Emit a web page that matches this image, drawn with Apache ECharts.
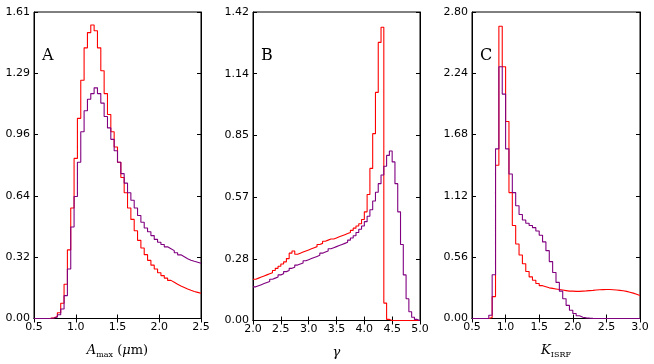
<!DOCTYPE html>
<html>
<head>
<meta charset="utf-8">
<script src="https://cdn.jsdelivr.net/npm/echarts@6/dist/echarts.min.js"></script>
<style>
  html, body { margin: 0; padding: 0; background: #fff; }
  #MyChart { width: 654px; height: 364px; }
</style>
</head>
<body>
<div id="MyChart"></div>
<script>
// panel A : A_max
var edgesA = [0.50, 0.54, 0.58, 0.62, 0.66, 0.70, 0.74, 0.78, 0.82, 0.86, 0.90, 0.94, 0.98, 1.02, 1.06, 1.10, 1.14, 1.18, 1.22, 1.26,
    1.30, 1.34, 1.38, 1.42, 1.46, 1.50, 1.54, 1.58, 1.62, 1.66, 1.70, 1.74, 1.78, 1.82, 1.86, 1.90, 1.94, 1.98, 2.02, 2.06,
    2.10, 2.14, 2.18, 2.22, 2.26, 2.30, 2.34, 2.38, 2.42, 2.46, 2.50];
var redA = [0, 0, 0, 0, 0.001, 0.004, 0.01, 0.03, 0.08, 0.18, 0.36, 0.58, 0.84, 1.05, 1.25, 1.42, 1.50, 1.54, 1.51, 1.42,
    1.30, 1.18, 1.07, 0.98, 0.90, 0.82, 0.74, 0.66, 0.58, 0.52, 0.46, 0.41, 0.37, 0.335, 0.305, 0.28, 0.26, 0.24, 0.225, 0.212,
    0.20, 0.19, 0.18, 0.171, 0.163, 0.155, 0.148, 0.142, 0.137, 0.132];
var purpleA = [0, 0, 0, 0, 0.001, 0.003, 0.008, 0.02, 0.05, 0.12, 0.26, 0.48, 0.64, 0.82, 0.98, 1.09, 1.15, 1.18, 1.21, 1.18,
    1.13, 1.06, 1.00, 0.94, 0.88, 0.82, 0.76, 0.71, 0.66, 0.62, 0.58, 0.54, 0.505, 0.475, 0.455, 0.435, 0.415, 0.40, 0.388, 0.376,
    0.366, 0.356, 0.345, 0.334, 0.324, 0.314, 0.306, 0.30, 0.295, 0.29];
var yLabelsA = ['0.00', '0.32', '0.64', '0.96', '1.29', '1.61'];

// panel B : gamma
var edgesB = [2.00, 2.05, 2.10, 2.15, 2.20, 2.25, 2.30, 2.35, 2.40, 2.45, 2.50, 2.55, 2.60, 2.65, 2.70, 2.75, 2.80, 2.85, 2.90, 2.95,
    3.00, 3.05, 3.10, 3.15, 3.20, 3.25, 3.30, 3.35, 3.40, 3.45, 3.50, 3.55, 3.60, 3.65, 3.70, 3.75, 3.80, 3.85, 3.90, 3.95,
    4.00, 4.05, 4.10, 4.15, 4.20, 4.25, 4.30, 4.35, 4.40, 4.45, 4.50, 4.55, 4.60, 4.65, 4.70, 4.75, 4.80, 4.85, 4.90, 4.95, 5.00];
var redB = [0.19, 0.195, 0.20, 0.205, 0.21, 0.215, 0.22, 0.23, 0.24, 0.25, 0.26, 0.27, 0.285, 0.31, 0.32, 0.305, 0.31, 0.315, 0.32, 0.325,
    0.33, 0.335, 0.34, 0.35, 0.355, 0.365, 0.37, 0.375, 0.375, 0.38, 0.385, 0.39, 0.395, 0.40, 0.405, 0.415, 0.425, 0.435, 0.445, 0.465,
    0.50, 0.58, 0.70, 0.86, 1.05, 1.28, 1.35, 0.08, 0.005, 0, 0, 0, 0, 0, 0, 0, 0, 0, 0, 0];
var purpleB = [0.155, 0.16, 0.165, 0.17, 0.175, 0.18, 0.19, 0.195, 0.20, 0.21, 0.215, 0.225, 0.23, 0.24, 0.245, 0.255, 0.26, 0.265, 0.275, 0.28,
    0.285, 0.29, 0.295, 0.30, 0.31, 0.315, 0.32, 0.33, 0.335, 0.34, 0.345, 0.35, 0.355, 0.36, 0.37, 0.38, 0.39, 0.405, 0.42, 0.435,
    0.455, 0.48, 0.51, 0.55, 0.59, 0.63, 0.67, 0.71, 0.76, 0.78, 0.73, 0.63, 0.50, 0.35, 0.21, 0.10, 0.04, 0.015, 0.005, 0];
var yLabelsB = ['0.00', '0.28', '0.57', '0.85', '1.14', '1.42'];

// panel C : K_ISRF
var edgesC = [0.50, 0.55, 0.60, 0.65, 0.70, 0.75, 0.80, 0.85, 0.90, 0.95, 1.00, 1.05, 1.10, 1.15, 1.20, 1.25, 1.30, 1.35, 1.40, 1.45,
    1.50, 1.55, 1.60, 1.65, 1.70, 1.75, 1.80, 1.85, 1.90, 1.95, 2.00, 2.05, 2.10, 2.15, 2.20, 2.25, 2.30, 2.35, 2.40, 2.45,
    2.50, 2.55, 2.60, 2.65, 2.70, 2.75, 2.80, 2.85, 2.90, 2.95, 3.00];
var redC = [0, 0, 0, 0, 0, 0.01, 0.2, 1.4, 2.67, 2.3, 1.8, 1.15, 0.85, 0.68, 0.58, 0.50, 0.43, 0.38, 0.35, 0.32,
    0.30, 0.29, 0.28, 0.275, 0.27, 0.265, 0.26, 0.255, 0.25, 0.25, 0.248, 0.248, 0.25, 0.252, 0.255, 0.257, 0.26, 0.262, 0.264, 0.265,
    0.265, 0.263, 0.26, 0.257, 0.253, 0.248, 0.24, 0.232, 0.222, 0.21];
var purpleC = [0, 0, 0, 0, 0, 0.03, 0.4, 1.55, 2.3, 2.05, 1.55, 1.32, 1.15, 1.03, 0.95, 0.90, 0.87, 0.85, 0.83, 0.80,
    0.76, 0.70, 0.62, 0.52, 0.42, 0.33, 0.25, 0.18, 0.12, 0.075, 0.045, 0.025, 0.012, 0.006, 0.003, 0.001, 0, 0, 0, 0,
    0, 0, 0, 0, 0, 0, 0, 0, 0, 0];
var yLabelsC = ['0.00', '0.56', '1.12', '1.68', '2.24', '2.80'];

var panels = [
    { letter: 'A', edges: edgesA, red: redA, purple: purpleA, yLabels: yLabelsA, yMax: 1.608, xMin: 0.5, xMax: 2.5, left: 34, width: 167,
      name: '{i|A}{sub|max}{r| (}{i|μ}{r|m)}' },
    { letter: 'B', edges: edgesB, red: redB, purple: purpleB, yLabels: yLabelsB, yMax: 1.42, xMin: 2.0, xMax: 5.0, left: 253, width: 167,
      name: '{i|γ}' },
    { letter: 'C', edges: edgesC, red: redC, purple: purpleC, yLabels: yLabelsC, yMax: 2.8, xMin: 0.5, xMax: 3.0, left: 472, width: 168,
      name: '{i|K}{sub|ISRF}' }
];

//把直方图的边和值变成阶梯线的点
function stepData(edges, values) {
    var pts = [];
    for (var i = 0; i < edges.length; i++) {
        pts.push([edges[i], i < values.length ? values[i] : values[values.length - 1]]);
    }
    return pts;
}

var nameRich = {
    i: { fontFamily: 'DejaVu Serif', fontStyle: 'italic', fontSize: 13, color: '#000', lineHeight: 16 },
    r: { fontFamily: 'DejaVu Serif', fontSize: 13, color: '#000', lineHeight: 16 },
    sub: { fontFamily: 'DejaVu Serif', fontSize: 8, color: '#000', lineHeight: 8, padding: [9, 0, 0, 0] }
};

var grids = [], xAxes = [], yAxes = [], series = [], titles = [];
panels.forEach(function (p, k) {
    grids.push({ left: p.left, top: 12, width: p.width, height: 312, show: true, borderColor: '#000', borderWidth: 1 });
    var tickStyle = { show: true, inside: true, length: 4, lineStyle: { color: '#000', width: 1 } };
    xAxes.push({
        type: 'value', gridIndex: k, position: 'bottom', min: p.xMin, max: p.xMax, interval: 0.5,
        axisLine: { show: true, lineStyle: { color: '#000', width: 1 } },
        axisTick: tickStyle, splitLine: { show: false },
        axisLabel: { color: '#000', fontFamily: 'DejaVu Sans', fontSize: 11, margin: 3, showMinLabel: true, showMaxLabel: true,
            formatter: function (v) { return v.toFixed(1); } },
        name: p.name, nameLocation: 'middle', nameGap: 24, nameTextStyle: { rich: nameRich }
    });
    xAxes.push({
        type: 'value', gridIndex: k, position: 'top', min: p.xMin, max: p.xMax, interval: 0.5,
        axisLine: { show: true, lineStyle: { color: '#000', width: 1 } },
        axisTick: tickStyle, splitLine: { show: false }, axisLabel: { show: false }
    });
    var itv = p.yMax / 5;
    yAxes.push({
        type: 'value', gridIndex: k, position: 'left', min: 0, max: p.yMax, interval: itv,
        axisLine: { show: true, lineStyle: { color: '#000', width: 1 } },
        axisTick: tickStyle, splitLine: { show: false },
        axisLabel: { color: '#000', fontFamily: 'DejaVu Sans', fontSize: 11, margin: 4,
            formatter: (function (labels, step) {
                return function (v) { return labels[Math.round(v / step)]; };
            })(p.yLabels, itv) }
    });
    yAxes.push({
        type: 'value', gridIndex: k, position: 'right', min: 0, max: p.yMax, interval: itv,
        axisLine: { show: true, lineStyle: { color: '#000', width: 1 } },
        axisTick: tickStyle, splitLine: { show: false }, axisLabel: { show: false }
    });
    series.push({
        type: 'line', step: 'end', xAxisIndex: 2 * k, yAxisIndex: 2 * k, symbol: 'none', silent: true,
        lineStyle: { color: '#ff0000', width: 1.1 }, data: stepData(p.edges, p.red)
    });
    series.push({
        type: 'line', step: 'end', xAxisIndex: 2 * k, yAxisIndex: 2 * k, symbol: 'none', silent: true,
        lineStyle: { color: '#800080', width: 1.1 }, data: stepData(p.edges, p.purple)
    });
    titles.push({
        text: p.letter, left: p.left + 3, top: 43,
        textStyle: { fontFamily: 'DejaVu Serif', fontWeight: 'normal', fontSize: 16, color: '#000' }
    });
});

var myChart = echarts.init(document.getElementById('MyChart'));
myChart.setOption({
    animation: false,
    title: titles,
    grid: grids,
    xAxis: xAxes,
    yAxis: yAxes,
    series: series
});
</script>
</body>
</html>
